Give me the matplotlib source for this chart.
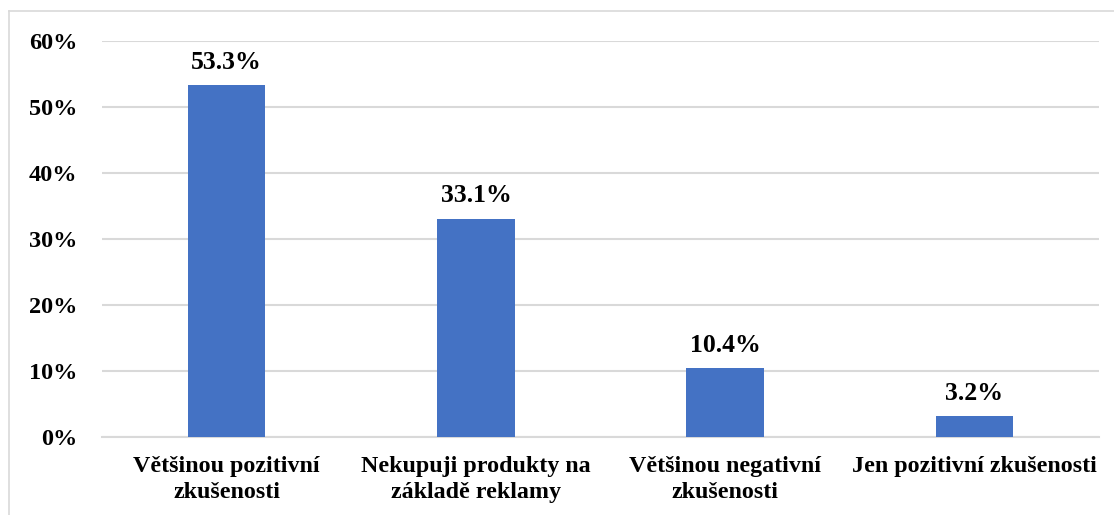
import matplotlib
matplotlib.use("Agg")
import matplotlib.pyplot as plt
from matplotlib.lines import Line2D

categories = ["Většinou pozitivní\nzkušenosti", "Nekupuji produkty na\nzákladě reklamy",
              "Většinou negativní\nzkušenosti", "Jen pozitivní zkušenosti"]
values = [53.3, 33.1, 10.4, 3.2]
value_labels = ["53.3%", "33.1%", "10.4%", "3.2%"]
yticks = [0, 10, 20, 30, 40, 50, 60]
ytick_labels = ["0%", "10%", "20%", "30%", "40%", "50%", "60%"]

plt.rcParams['font.family'] = ['Liberation Serif', 'DejaVu Serif']
plt.rcParams['font.weight'] = 'bold'

fig = plt.figure(figsize=(11.14, 5.15), dpi=100)
ax = fig.add_axes([102/1114, 1-437/515, (1099-102)/1114, (437-41)/515])

x = list(range(len(values)))
ax.bar(x, values, width=0.31, color="#4472C4", zorder=3)
for xi, v, lab in zip(x, values, value_labels):
    ax.annotate(lab, (xi, v), xytext=(0, 8), textcoords="offset points",
                ha="center", va="bottom", fontsize=18.5, fontweight="bold")

ax.set_xlim(-0.5, len(values) - 0.5)
ax.set_ylim(0, 60)
ax.set_yticks(yticks)
ax.set_yticklabels(ytick_labels, fontsize=17.5, fontweight="bold")
ax.set_xticks(x)
ax.set_xticklabels(categories, fontsize=17.3, fontweight="bold", linespacing=1.3)
ax.tick_params(axis="both", length=0)
ax.tick_params(axis="y", pad=18)
ax.tick_params(axis="x", pad=14)
ax.grid(axis="y", color="#d9d9d9", linewidth=1.5, zorder=0)
for s in ["top", "right", "left"]:
    ax.spines[s].set_visible(False)
ax.spines["bottom"].set_color("#d9d9d9")
ax.spines["bottom"].set_linewidth(1.5)

# figure frame (top and left edges)
fig.add_artist(Line2D([9/1114, 1.0], [1-11/515, 1-11/515], transform=fig.transFigure,
                      color="#d9d9d9", linewidth=1.2))
fig.add_artist(Line2D([9/1114, 9/1114], [0, 1-11/515], transform=fig.transFigure,
                      color="#d9d9d9", linewidth=1.2))

fig.savefig("out.png", dpi=100)
